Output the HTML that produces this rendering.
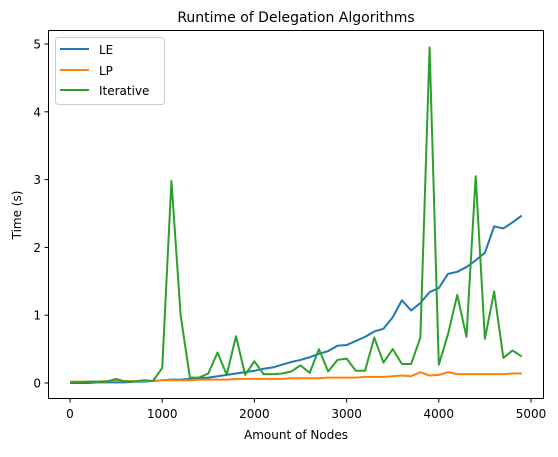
<!DOCTYPE html>
<html><head><meta charset="utf-8"><style>
body{margin:0;background:#fff;font-family:"DejaVu Sans","Liberation Sans",sans-serif;}
svg text{font-family:"DejaVu Sans","Liberation Sans",sans-serif;fill:#000;}
</style></head><body>
<svg id="chart" width="558" height="453" xmlns="http://www.w3.org/2000/svg">
<rect width="558" height="453" fill="#fff"/>
<text x="296" y="22" font-size="14" text-anchor="middle">Runtime of Delegation Algorithms</text>
<g id="plot"></g>
<rect x="48.5" y="30.5" width="495" height="368" fill="none" stroke="#000" stroke-width="1"/>
<text x="296" y="439" font-size="12" text-anchor="middle">Amount of Nodes</text>
<text x="0" y="0" font-size="12" text-anchor="middle" transform="translate(21,215) rotate(-90)">Time (s)</text>
<g>
<rect x="55.5" y="37.5" width="109" height="67" rx="3" fill="#fff" fill-opacity="0.8" stroke="#ccc"/>
<line x1="60" y1="49" x2="89" y2="49" stroke="#1f77b4" stroke-width="2"/>
<text x="99" y="54" font-size="12">LE</text>
<line x1="60" y1="70" x2="89" y2="70" stroke="#ff7f0e" stroke-width="2"/>
<text x="99" y="75" font-size="12">LP</text>
<line x1="60" y1="90" x2="89" y2="90" stroke="#2ca02c" stroke-width="2"/>
<text x="99" y="95" font-size="12">Iterative</text>
</g>
</svg>
<script>
const nodes = [0,100,200,300,400,500,600,700,800,900,1000,1100,1200,1300,1400,1500,1600,1700,1800,1900,2000,2100,2200,2300,2400,2500,2600,2700,2800,2900,3000,3100,3200,3300,3400,3500,3600,3700,3800,3900,4000,4100,4200,4300,4400,4500,4600,4700,4800,4900];
const leValues = [0.0,0.0,0.0,0.01,0.01,0.01,0.01,0.02,0.02,0.03,0.04,0.05,0.05,0.06,0.07,0.08,0.1,0.12,0.14,0.16,0.18,0.21,0.23,0.27,0.31,0.34,0.38,0.43,0.47,0.55,0.56,0.62,0.68,0.76,0.8,0.97,1.22,1.07,1.18,1.34,1.4,1.61,1.64,1.71,1.81,1.92,2.31,2.28,2.37,2.47];
const lpValues = [0.02,0.02,0.02,0.02,0.03,0.03,0.03,0.03,0.03,0.03,0.04,0.04,0.04,0.04,0.05,0.05,0.05,0.05,0.06,0.06,0.06,0.06,0.06,0.06,0.07,0.07,0.07,0.07,0.08,0.08,0.08,0.08,0.09,0.09,0.09,0.1,0.11,0.1,0.16,0.11,0.12,0.16,0.13,0.13,0.13,0.13,0.13,0.13,0.14,0.14];
const iterValues = [0.01,0.01,0.02,0.02,0.02,0.06,0.02,0.02,0.04,0.03,0.22,2.98,1.0,0.08,0.08,0.14,0.45,0.12,0.69,0.12,0.32,0.13,0.13,0.14,0.17,0.26,0.15,0.5,0.17,0.34,0.36,0.18,0.18,0.67,0.3,0.5,0.28,0.28,0.67,4.95,0.27,0.72,1.3,0.68,3.05,0.65,1.35,0.37,0.48,0.39];
const xTicks = [0,1000,2000,3000,4000,5000];
const yTicks = [0,1,2,3,4,5];

const NS = "http://www.w3.org/2000/svg";
const xS = v => 70 + v * 0.0922;
const yS = v => 383 - v * 67.8;
const g = document.getElementById('plot');
function mk(tag, attrs){const e=document.createElementNS(NS,tag);for(const k in attrs)e.setAttribute(k,attrs[k]);return e;}
xTicks.forEach(t=>{
  const l=mk('line',{x1:xS(t),x2:xS(t),y1:399,y2:402.5,stroke:'#000'});
  
  
  g.appendChild(l);
  const tx=mk('text',{x:xS(t),y:418,'font-size':12,'text-anchor':'middle'});
  
  
  tx.textContent=t;g.appendChild(tx);
});
yTicks.forEach(t=>{
  const l=mk('line',{x1:44.5,x2:48.5,y1:yS(t),y2:yS(t),stroke:'#000'});
  
  
  g.appendChild(l);
  const tx=mk('text',{x:41,y:yS(t)+4.5,'font-size':12,'text-anchor':'end'});
  
  
  tx.textContent=t;g.appendChild(tx);
});
function series(vals,color,name){
  const p=mk('polyline',{points:nodes.map((n,i)=>xS(n)+','+yS(vals[i])).join(' '),fill:'none',stroke:color,'stroke-width':2,'stroke-linejoin':'round'});
  
  
  g.appendChild(p);
}
series(leValues,'#1f77b4','le-line');
series(lpValues,'#ff7f0e','lp-line');
series(iterValues,'#2ca02c','iterative-line');
</script>
</body></html>
